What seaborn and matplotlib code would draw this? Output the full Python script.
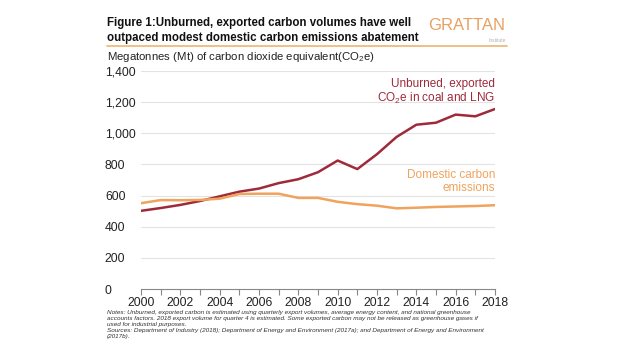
import matplotlib
matplotlib.use("Agg")
import matplotlib.pyplot as plt
import seaborn as sns
import pandas as pd

years = list(range(2000, 2019))
exported = [502, 520, 540, 565, 595, 625, 645, 680, 705, 750, 825, 770, 866, 977, 1055, 1068, 1120, 1109, 1156]
domestic = [551, 571, 570, 572, 580, 610, 612, 612, 585, 585, 560, 545, 535, 518, 522, 527, 530, 533, 538]
yticks = [0, 200, 400, 600, 800, 1000, 1200, 1400]
xticks = list(range(2000, 2019, 2))

RED = "#9E2A3A"
ORANGE = "#EFA35C"
GOLD = "#E9B672"

df = pd.DataFrame({"year": years * 2,
                   "value": exported + domestic,
                   "series": ["exported"] * len(years) + ["domestic"] * len(years)})

sns.set_theme(style="white")
plt.rcParams["font.family"] = ["Liberation Sans", "DejaVu Sans"]
plt.rcParams["mathtext.fontset"] = "custom"
plt.rcParams["mathtext.rm"] = "Liberation Sans"
plt.rcParams["mathtext.it"] = "Liberation Sans:italic"
plt.rcParams["mathtext.bf"] = "Liberation Sans:bold"

fig = plt.figure(figsize=(6.2, 3.49), dpi=100)
ax = fig.add_axes([141 / 620, 1 - 289 / 349, (495 - 141) / 620, (289 - 71) / 349])

sns.lineplot(data=df, x="year", y="value", hue="series",
             palette={"exported": RED, "domestic": ORANGE},
             linewidth=1.8, ax=ax, legend=False)

ax.set_xlim(2000, 2018)
ax.set_ylim(0, 1400)
ax.set_yticks(yticks)
ax.set_yticklabels([f"{v:,}" for v in yticks])
ax.set_xticks(years)
ax.set_xticklabels([str(y) if y in xticks else "" for y in years])
for y in yticks[1:]:
    ax.axhline(y, color="#E3E3E3", lw=0.8, zorder=0)
for s in ["top", "right", "left"]:
    ax.spines[s].set_visible(False)
ax.spines["bottom"].set_color("#888888")
ax.spines["bottom"].set_linewidth(0.8)
ax.tick_params(axis="x", direction="out", length=4, width=0.8, color="#888888",
               labelsize=8.7, pad=2, labelcolor="#222222", bottom=True)
ax.tick_params(axis="y", length=0, labelsize=8.7, pad=26, labelcolor="#222222")
for lab in ax.get_yticklabels():
    lab.set_horizontalalignment("left")
ax.set_xlabel("")
ax.set_ylabel("")

ax.text(2018, 1265, "Unburned, exported\nCO$_\\mathrm{2}$e in coal and LNG", color=RED,
        ha="right", va="center", fontsize=8.5, linespacing=1.1)
ax.text(2018, 690, "Domestic carbon\nemissions", color=ORANGE,
        ha="right", va="center", fontsize=8.5, linespacing=1.1)

fig.text(107 / 620, 1 - 30.5 / 349,
         "Figure 1:Unburned, exported carbon volumes have well\noutpaced modest domestic carbon emissions abatement",
         ha="left", va="center", fontsize=8.3, fontweight="bold", color="#111111", linespacing=1.3)
fig.text(505 / 620, 1 - 26 / 349, "GRATTAN", ha="right", va="center", fontsize=12,
         color="#E8A062")
fig.text(506 / 620, 1 - 40 / 349, "Institute", ha="right", va="center", fontsize=3.5,
         color="#B0B0B0")
fig.add_artist(plt.Line2D([107 / 620, 507 / 620], [1 - 46 / 349, 1 - 46 / 349],
                          color=GOLD, lw=1.2))
fig.text(107 / 620, 1 - 57 / 349,
         "Megatonnes (Mt) of carbon dioxide equivalent(CO$_\\mathrm{2}$e)",
         ha="left", va="center", fontsize=8.2, color="#222222")

notes = ("Notes: Unburned, exported carbon is estimated using quarterly export volumes, average energy content, and national greenhouse\n"
         "accounts factors. 2018 export volume for quarter 4 is estimated. Some exported carbon may not be released as greenhouse gases if\n"
         "used for industrial purposes.\n"
         "Sources: Department of Industry (2018); Department of Energy and Environment (2017a); and Department of Energy and Environment\n"
         "(2017b).")
fig.text(107 / 620, 1 - 310 / 349, notes, ha="left", va="top", fontsize=4.6,
         style="italic", color="#333333", linespacing=1.25)

fig.savefig("out.png", dpi=100, facecolor="white")
